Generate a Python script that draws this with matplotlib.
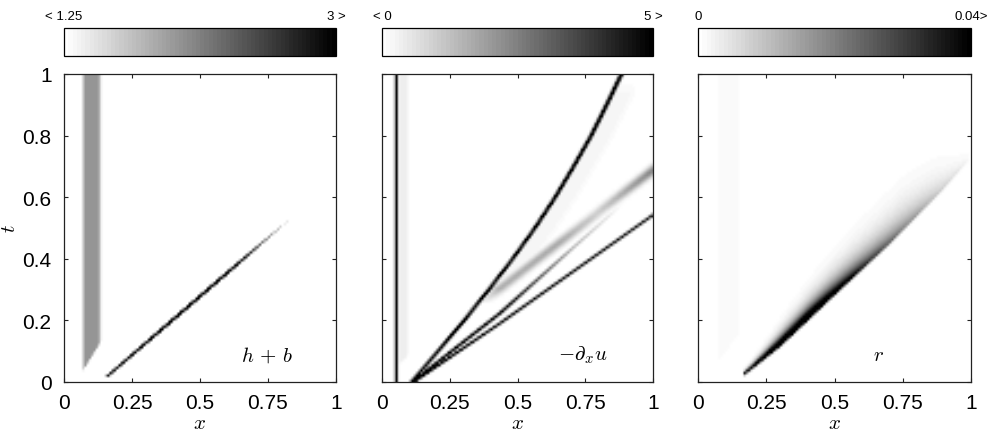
import numpy as np
import matplotlib
matplotlib.use("Agg")
import matplotlib.pyplot as plt
from matplotlib.colors import Normalize
from matplotlib.cm import ScalarMappable

plt.rcParams['font.family'] = ['Liberation Sans', 'DejaVu Sans']
plt.rcParams['mathtext.fontset'] = 'cm'

# ---------------------------------------------------------------------------
# Axis ticks
x_ticks = [0, 0.25, 0.5, 0.75, 1]
x_ticklabels = ['0', '0.25', '0.5', '0.75', '1']
t_ticks = [0, 0.2, 0.4, 0.6, 0.8, 1]
t_ticklabels = ['0', '0.2', '0.4', '0.6', '0.8', '1']

# Colour limits and colour-bar labels for each field
hb_limits = (1.25, 3.0)
hb_bar_labels = ['< 1.25', '3 >']
ux_limits = (0.0, 5.0)
ux_bar_labels = ['< 0', '5 >']
r_limits = (0.0, 0.04)
r_bar_labels = ['0', '0.04>']

panel_names = [r'$h\,+\,b$', r'$-\partial_x u$', r'$r$']

# --- h + b ------------------------------------------------------------------
hb_background = 1.0
hb_column_x = [0.065, 0.132]
hb_column_bottom_t = [0.03, 0.125]
hb_column_value = 1.97
hb_front_t = [0.015, 0.20, 0.35, 0.45, 0.53]
hb_front_x = [0.157, 0.40, 0.597, 0.728, 0.835]
hb_front_peak = [3.0, 4.2, 4.0, 2.4, 1.3]

# --- -d_x u -----------------------------------------------------------------
ux_wall_x = 0.049
ux_wall_peak = 8.0
ux_film_x = [0.055, 0.092]
ux_film_bottom_t = [0.05, 0.08]
ux_film_value = 0.35
ux_main_t = [0.0, 0.1, 0.2, 0.3, 0.4, 0.5, 0.6, 0.7, 0.8, 0.9, 1.0]
ux_main_x = [0.11, 0.208, 0.304, 0.395, 0.483, 0.565, 0.64, 0.708, 0.773, 0.83, 0.885]
ux_main_peak = [8.0, 8.0, 8.0, 8.0, 8.0, 8.0, 8.0, 8.0, 8.0, 8.0, 8.0]
ux_mid_t = [0.0, 0.221, 0.30, 0.43, 0.54, 0.58]
ux_mid_x = [0.115, 0.435, 0.535, 0.70, 0.841, 0.89]
ux_mid_peak = [7.0, 6.0, 4.2, 1.6, 0.5, 0.0]
ux_low_t = [0.0, 0.188, 0.54, 0.58]
ux_low_x = [0.12, 0.435, 1.0, 1.06]
ux_low_peak = [7.0, 5.5, 5.0, 5.0]
ux_shear_t = [0.25, 0.302, 0.45, 0.55, 0.686, 0.72]
ux_shear_x = [0.37, 0.435, 0.653, 0.80, 1.0, 1.05]
ux_shear_peak = [0.0, 1.6, 1.7, 1.0, 2.4, 2.4]
ux_wedge_value = 0.22

# --- r ----------------------------------------------------------------------
r_column_x = [0.073, 0.151]
r_column_bottom_t = [0.063, 0.16]
r_column_value = 0.0012
r_edge_x = [0.16, 0.30, 0.48, 0.70, 0.90, 0.99]
r_edge_t = [0.02, 0.12, 0.27, 0.45, 0.63, 0.72]
r_plume_x = [0.16, 0.22, 0.30, 0.40, 0.50, 0.62, 0.75, 0.88, 0.99, 1.0]
r_plume_peak = [0.04, 0.07, 0.085, 0.08, 0.055, 0.034, 0.02, 0.009, 0.002, 0.0]
r_plume_spread = [0.004, 0.009, 0.018, 0.026, 0.034, 0.042, 0.05, 0.045, 0.02, 0.02]

# ---------------------------------------------------------------------------
# Computational grid
nx, nt = 120, 120
xg = np.linspace(0.0, 1.0, nx)
tg = np.linspace(0.0, 1.0, nt)
X, T = np.meshgrid(xg, tg)


def smooth_step(z, width):
    return np.clip(z / width + 0.5, 0.0, 1.0)


def column(x_pair, bottom_pair, edge=0.008):
    """Vertical strip between two x positions, above a slanted bottom."""
    inside = smooth_step(X - x_pair[0], edge) * smooth_step(x_pair[1] - X, edge)
    bottom = np.interp(X, x_pair, bottom_pair)
    return inside * smooth_step(T - bottom, 0.012)


def ridge(path_t, path_x, peak, width):
    """Narrow crest following x = path(t), amplitude varying along t."""
    xc = np.interp(T, path_t, path_x)
    amp = np.interp(T, path_t, peak, left=0.0, right=peak[-1])
    amp = np.where(T < path_t[0], 0.0, amp)
    return amp * np.exp(-((X - xc) / width) ** 2)


# h + b field
hb = np.full_like(X, hb_background)
hb = np.maximum(hb, hb_background + (hb_column_value - hb_background)
                * column(hb_column_x, hb_column_bottom_t, 0.016))
front = ridge(hb_front_t, hb_front_x, hb_front_peak, 0.011)
front = np.where(T > hb_front_t[-1], 0.0, front)
hb = np.maximum(hb, front)

# -d_x u field
ux = np.zeros_like(X)
ux = np.maximum(ux, ux_film_value * column(ux_film_x, ux_film_bottom_t, 0.012))
ux = np.maximum(ux, ux_wall_peak * np.exp(-((X - ux_wall_x) / 0.005) ** 2))
main_x = np.interp(T, ux_main_t, ux_main_x)
shear_x = np.interp(T, ux_shear_t, ux_shear_x, right=2.0)
wedge_right = np.minimum(shear_x, main_x + 0.08)
wedge = (ux_wedge_value * smooth_step(X - main_x, 0.01)
         * smooth_step(wedge_right - X, 0.04) * smooth_step(T - 0.32, 0.04)
         * smooth_step(0.96 - T, 0.06))
ux = np.maximum(ux, wedge)
shear = ridge(ux_shear_t, ux_shear_x, ux_shear_peak, 0.028)
ux = np.maximum(ux, shear)
ux = np.maximum(ux, ridge(ux_low_t, ux_low_x, ux_low_peak, 0.009))
ux = np.maximum(ux, ridge(ux_mid_t, ux_mid_x, ux_mid_peak, 0.009))
ux = np.maximum(ux, ridge(ux_main_t, ux_main_x, ux_main_peak, 0.0075))

# r field
rr = r_column_value * column(r_column_x, r_column_bottom_t, 0.012)
edge_t = np.interp(X, r_edge_x, r_edge_t)
amp = np.interp(X, r_plume_x, r_plume_peak, left=0.0, right=0.0)
spread = np.interp(X, r_plume_x, r_plume_spread)
d = T - edge_t
plume = np.where(d >= 0, amp * np.exp(-d / spread),
                 amp * np.exp(-(d / 0.007) ** 2))
plume = np.where(X < r_plume_x[0], 0.0, plume)
rr = np.maximum(rr, plume)

fields = [hb, ux, rr]
limits = [hb_limits, ux_limits, r_limits]
bar_labels = [hb_bar_labels, ux_bar_labels, r_bar_labels]

# ---------------------------------------------------------------------------
cmap = plt.get_cmap('gray_r', 64)

fig = plt.figure(figsize=(9.89, 4.35), dpi=100)
W, H = 989.0, 435.0
panel_left = [64, 382, 698]
panel_width = [272, 271, 273]
ax_top, ax_bottom = 75, 383
bar_top, bar_bottom = 29, 57

name_x = [0.745, 0.743, 0.66]

for i in range(3):
    l = panel_left[i] / W
    w = panel_width[i] / W
    ax = fig.add_axes([l, (H - ax_bottom) / H, w, (ax_bottom - ax_top) / H])
    vmin, vmax = limits[i]
    ax.imshow(fields[i], extent=[0, 1, 0, 1], origin='lower', aspect='auto',
              cmap=cmap, vmin=vmin, vmax=vmax, interpolation='bilinear')
    ax.set_xlim(0, 1)
    ax.set_ylim(0, 1)
    ax.set_xticks(x_ticks)
    ax.set_xticklabels(x_ticklabels)
    ax.set_yticks(t_ticks)
    if i == 0:
        ax.set_yticklabels(t_ticklabels)
        ax.set_ylabel(r'$t$', fontsize=15)
        ax.yaxis.set_label_coords(-0.165, 0.5)
    else:
        ax.set_yticklabels([])
    ax.tick_params(direction='in', length=3, width=0.8, top=True, right=True,
                   labelsize=15, color='#222222')
    ax.tick_params(axis='x', pad=8)
    ax.tick_params(axis='y', pad=9)
    ax.set_xlabel(r'$x$', fontsize=15, labelpad=1)
    for sp in ax.spines.values():
        sp.set_linewidth(0.9)
        sp.set_color('#222222')
    ax.text(name_x[i], 0.09, panel_names[i], fontsize=15, ha='center',
            va='center', transform=ax.transAxes)

    cax = fig.add_axes([l, (H - bar_bottom) / H, w, (bar_bottom - bar_top) / H])
    sm = ScalarMappable(norm=Normalize(vmin, vmax), cmap=cmap)
    cb = fig.colorbar(sm, cax=cax, orientation='horizontal')
    cb.outline.set_linewidth(0.9)
    cb.set_ticks([vmin, vmax])
    cb.set_ticklabels(bar_labels[i])
    cax.xaxis.set_ticks_position('top')
    cax.tick_params(length=0, labelsize=9.5, pad=4)

fig.savefig('out.png', dpi=100)
